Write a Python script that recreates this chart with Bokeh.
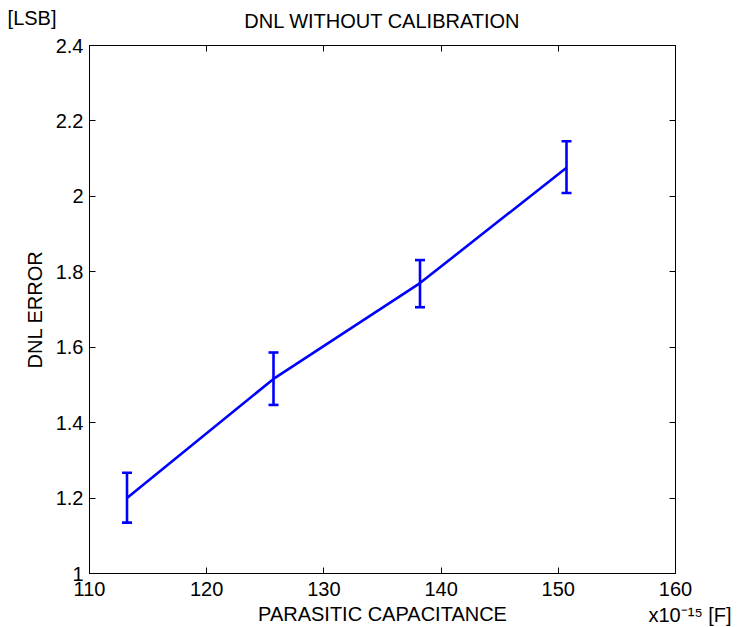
from bokeh.plotting import figure
from bokeh.models import (Range1d, LinearAxis, FixedTicker, CustomJSTickFormatter,
                          ColumnDataSource, Whisker, TeeHead)
from bokeh.embed import file_html
from bokeh.resources import INLINE

# ---- data ----
capacitance = [113.2, 125.7, 138.2, 150.7]       # x10^-15 F
dnl_error = [1.200, 1.516, 1.770, 2.076]         # LSB
dnl_upper = [1.267, 1.586, 1.831, 2.146]
dnl_lower = [1.135, 1.447, 1.706, 2.009]
x_ticks = [110, 120, 130, 140, 150, 160]
y_ticks = [1.0, 1.2, 1.4, 1.6, 1.8, 2.0, 2.2, 2.4]

title_text = "DNL WITHOUT CALIBRATION"
x_label = "PARASITIC CAPACITANCE"
y_label = "DNL ERROR"
y_unit = "[LSB]"
x_unit = "x10\u207b\u00b9\u2075 [F]"

FONT = "Liberation Sans"
FS = "20px"
BLUE = "#0000ff"

p = figure(width=744, height=627, output_backend="svg", toolbar_location=None,
           x_range=Range1d(110, 160), y_range=Range1d(1.0, 2.4),
           min_border_left=89, min_border_right=69, min_border_top=45, min_border_bottom=54,
           x_axis_location=None, y_axis_location=None)
p.xgrid.visible = False
p.ygrid.visible = False
p.outline_line_color = "black"
p.outline_line_width = 1
p.background_fill_color = "white"
p.border_fill_color = "white"

fmt = CustomJSTickFormatter(code="return String(Math.round(tick*10)/10);")

def make_axis(show_labels, standoff, ticks):
    ax = LinearAxis(ticker=FixedTicker(ticks=ticks))
    ax.major_tick_in = 6
    ax.major_tick_out = 0
    ax.minor_tick_line_color = None
    ax.axis_line_color = "black"
    ax.major_tick_line_color = "black"
    ax.major_label_text_font = FONT
    ax.major_label_text_font_size = FS if show_labels else "0px"
    ax.major_label_text_color = "black" if show_labels else None
    ax.major_label_standoff = standoff
    ax.axis_label_text_font = FONT
    ax.axis_label_text_font_size = FS
    ax.axis_label_text_font_style = "normal"
    ax.axis_label_text_color = "black"
    ax.formatter = fmt
    return ax

def make_text_axis(ticks, text_code, standoff, line_height):
    ax = LinearAxis(ticker=FixedTicker(ticks=ticks))
    ax.major_tick_in = 0
    ax.major_tick_out = 0
    ax.minor_tick_line_color = None
    ax.axis_line_color = None
    ax.major_label_text_font = FONT
    ax.major_label_text_font_size = FS
    ax.major_label_text_color = "black"
    ax.major_label_text_line_height = line_height
    ax.major_label_standoff = standoff
    ax.formatter = text_code
    return ax

# bottom axis with tick labels and x label
bx = make_axis(True, 8, x_ticks)
bx.major_label_text_line_height = 1.0
bx.axis_label = x_label
bx.axis_label_standoff = 4
bx.axis_label_text_line_height = 1.0
p.add_layout(bx, "below")

# top axis: ticks only, carries the chart title as its label
tx = make_axis(False, 0, x_ticks)
tx.axis_label = title_text
tx.axis_label_standoff = 14
p.add_layout(tx, "above")

# left axis with tick labels and y label
ly = make_axis(True, 6, y_ticks)
ly.axis_label = y_label
ly.axis_label_standoff = 7
p.add_layout(ly, "left")

# right axis: ticks only
ry = make_axis(False, 0, y_ticks)
p.add_layout(ry, "right")

# outer right axis: only the x unit text, below the lowest tick
uxa = make_text_axis([y_ticks[0]], CustomJSTickFormatter(
    args=dict(unit=x_unit), code="return '\\u00a0\\n\\u00a0\\n\\u00a0\\n' + unit;"),
    -27, 1.25)
p.add_layout(uxa, "right")

# outer left axis: only the y unit text, above the top tick
uya = make_text_axis([y_ticks[-1]], CustomJSTickFormatter(
    args=dict(unit=y_unit), code="return unit + '\\n\\u00a0\\n\\u00a0';"),
    -36, 1.25)
p.add_layout(uya, "left")

src = ColumnDataSource(dict(x=capacitance, y=dnl_error, up=dnl_upper, lo=dnl_lower))
p.line("x", "y", source=src, line_color=BLUE, line_width=2.6)
w = Whisker(base="x", upper="up", lower="lo", source=src, dimension="height",
            line_color=BLUE, line_width=2.6,
            upper_head=TeeHead(size=10, line_color=BLUE, line_width=2.6),
            lower_head=TeeHead(size=10, line_color=BLUE, line_width=2.6))
p.add_layout(w)

open("out.html", "w").write(file_html(p, INLINE))
